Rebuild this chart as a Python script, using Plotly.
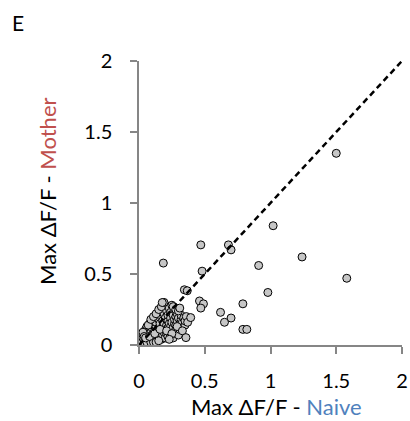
import plotly.graph_objects as go

# Max dF/F per cell: naive (x) vs mother (y)
naive = [
    0.02, 0.03, 0.04, 0.05, 0.05, 0.06, 0.06, 0.07, 0.07, 0.08, 0.08, 0.08,
    0.09, 0.09, 0.10, 0.10, 0.10, 0.11, 0.11, 0.12, 0.12, 0.12, 0.13, 0.13,
    0.13, 0.14, 0.14, 0.14, 0.15, 0.15, 0.15, 0.16, 0.16, 0.16, 0.17, 0.17,
    0.17, 0.18, 0.18, 0.18, 0.18, 0.19, 0.19, 0.19, 0.20, 0.20, 0.20, 0.20,
    0.21, 0.21, 0.21, 0.22, 0.22, 0.22, 0.22, 0.23, 0.23, 0.23, 0.24, 0.24,
    0.24, 0.24, 0.25, 0.25, 0.25, 0.26, 0.26, 0.26, 0.27, 0.27, 0.27, 0.27,
    0.28, 0.28, 0.28, 0.29, 0.29, 0.29, 0.30, 0.30, 0.30, 0.31, 0.31, 0.32,
    0.32, 0.33, 0.33, 0.34, 0.35, 0.35, 0.36, 0.37, 0.03, 0.04, 0.06, 0.09,
    0.11, 0.13, 0.15, 0.07, 0.09, 0.11, 0.13, 0.15, 0.17, 0.19, 0.26, 0.28,
    0.30, 0.31, 0.10, 0.05, 0.08, 0.12, 0.16, 0.21, 0.25, 0.29, 0.33, 0.23,
    # cells away from the main cluster
    1.50, 1.02, 0.47, 0.68, 0.70, 1.24, 0.91, 1.58, 0.48, 0.98, 0.46, 0.49,
    0.47, 0.79, 0.62, 0.70, 0.65, 0.79, 0.82, 0.185, 0.345, 0.367, 0.177,
    0.357, 0.393,
]
mother = [
    0.03, 0.05, 0.02, 0.08, 0.11, 0.04, 0.13, 0.07, 0.10, 0.03, 0.12, 0.15,
    0.06, 0.09, 0.04, 0.12, 0.17, 0.08, 0.14, 0.05, 0.10, 0.19, 0.07, 0.13,
    0.16, 0.03, 0.10, 0.21, 0.06, 0.12, 0.18, 0.08, 0.15, 0.23, 0.04, 0.11,
    0.20, 0.07, 0.13, 0.17, 0.26, 0.09, 0.15, 0.22, 0.05, 0.11, 0.19, 0.28,
    0.08, 0.14, 0.24, 0.06, 0.12, 0.17, 0.21, 0.09, 0.15, 0.26, 0.07, 0.13,
    0.19, 0.23, 0.10, 0.16, 0.28, 0.05, 0.12, 0.21, 0.08, 0.15, 0.18, 0.25,
    0.11, 0.20, 0.14, 0.09, 0.17, 0.22, 0.13, 0.19, 0.07, 0.15, 0.11, 0.18,
    0.21, 0.13, 0.16, 0.19, 0.14, 0.17, 0.20, 0.16, 0.09, 0.06, 0.02, 0.02,
    0.02, 0.02, 0.03, 0.14, 0.18, 0.20, 0.22, 0.25, 0.27, 0.30, 0.27, 0.25,
    0.24, 0.26, 0.07, 0.05, 0.06, 0.08, 0.11, 0.10, 0.08, 0.13, 0.10, 0.04,
    1.35, 0.84, 0.705, 0.705, 0.67, 0.62, 0.56, 0.47, 0.52, 0.37, 0.31, 0.29,
    0.26, 0.29, 0.23, 0.19, 0.16, 0.11, 0.11, 0.577, 0.389, 0.382, 0.299,
    0.052, 0.193,
]

# identity line
unity = [0, 2]

axis_ticks = [0, 0.5, 1, 1.5, 2]
axis_labels = ["0", "0.5", "1", "1.5", "2"]

FONT = "Lato"
AXIS_GREY = "#868686"
TITLE_SIZE = 22

fig = go.Figure()
fig.add_trace(go.Scatter(
    x=naive, y=mother, mode="markers",
    marker=dict(size=8, color="#c6c6c6", line=dict(color="black", width=1)),
    cliponaxis=False, showlegend=False,
))
fig.add_trace(go.Scatter(
    x=unity, y=unity, mode="lines",
    line=dict(color="black", width=2.5, dash="6px,4px"),
    showlegend=False,
))

axis_common = dict(
    range=[0, 2], tickvals=axis_ticks, ticktext=axis_labels,
    showgrid=False, zeroline=False, showline=True, automargin=False,
    linecolor=AXIS_GREY, linewidth=1.5,
    ticks="outside", ticklen=7, tickwidth=1.5, tickcolor=AXIS_GREY,
    tickfont=dict(family=FONT, size=20, color="black"),
    ticklabelstandoff=10,
)


def label(text, **kw):
    return dict(text=text, xref="paper", yref="paper", showarrow=False,
                borderpad=0,
                font=dict(family=FONT, size=TITLE_SIZE, color="black"), **kw)


fig.update_layout(
    width=410, height=421,
    margin=dict(l=139, r=8, t=61, b=76),
    paper_bgcolor="white", plot_bgcolor="white",
    xaxis=axis_common,
    yaxis=dict(axis_common, ticklabelstandoff=14),
    annotations=[
        label("Max ΔF/F - <span style='color:#4f81bd'>Naive</span>",
              x=0.521, y=-0.218, xanchor="center", yanchor="middle"),
        label("Max ΔF/F - <span style='color:#c0504d'>Mother</span>",
              x=-0.346, y=0.539, xanchor="center", yanchor="middle",
              textangle=-90),
        # panel letter
        dict(text="E", xref="paper", yref="paper", showarrow=False,
             x=-0.46, y=1.137, xanchor="center", yanchor="middle",
             font=dict(family=FONT, size=21, color="black")),
    ],
)

fig.write_html("out.html")
